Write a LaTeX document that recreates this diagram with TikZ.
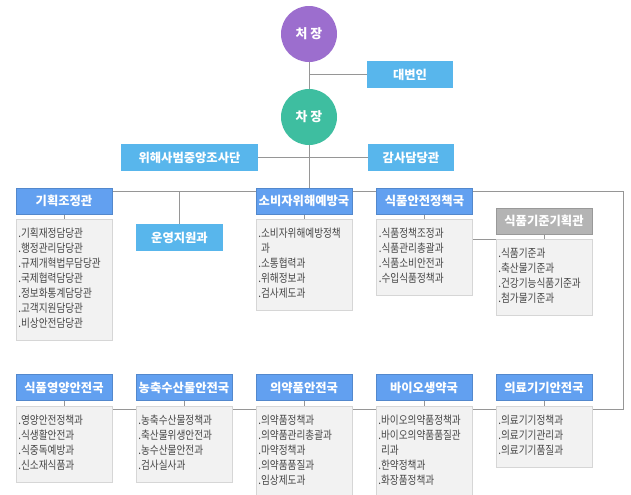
\documentclass[tikz,border=0pt]{standalone}
\usepackage{fontspec}
\setmainfont{Noto Sans CJK KR}
\newfontfamily\listfont{Noto Sans CJK KR}[FakeStretch=0.84]
\usetikzlibrary{positioning,backgrounds}

\definecolor{headpurple}{RGB}{156,110,206}
\definecolor{viceteal}{RGB}{62,190,160}
\definecolor{staffblue}{RGB}{88,182,236}
\definecolor{bureaublue}{RGB}{98,160,240}
\definecolor{planninggray}{RGB}{180,180,180}
\definecolor{listgray}{RGB}{242,242,242}
\definecolor{listline}{RGB}{214,214,214}
\definecolor{linkgray}{RGB}{150,150,150}

\tikzset{
  chief/.style={circle, minimum size=1.68cm, inner sep=0pt, text=white, font=\bfseries\fontsize{11}{13}\selectfont},
  staff/.style={rectangle, fill=staffblue, minimum width=2.58cm, minimum height=0.81cm, inner sep=0pt, text=white, font=\bfseries\fontsize{10.5}{12}\selectfont},
  bureau/.style={rectangle, fill=bureaublue, draw=bureaublue!85!black, line width=0.3pt, minimum width=2.88cm, minimum height=0.78cm, inner sep=0pt, text=white, font=\bfseries\fontsize{10.5}{12}\selectfont},
  deptlist/.style={rectangle, fill=listgray, draw=listline, line width=0.4pt, text width=2.74cm, inner xsep=0.07cm, inner ysep=0.24cm, align=left, text=black!72, font=\listfont\fontsize{9.8}{12.8}\selectfont, execute at begin node=\strut, execute at end node=\strut},
  link/.style={draw=linkgray, line width=0.6pt}
}

\begin{document}
\begin{tikzpicture}[x=0.03cm, y=-0.03cm]
	\useasboundingbox (0,0) rectangle (631,495);
	%% top of the chart
	\node[chief, fill=headpurple] (boss) at (309,34) {처 장};
	\node[staff] (spokes) at (410,74.5) {대변인};
	\node[chief, fill=viceteal] (vice) at (309,117) {차 장};
	\node[staff, minimum width=4.11cm] (probe) at (189.5,157.5) {위해사범중앙조사단};
	\node[staff] (audit) at (411,157.5) {감사담당관};
	\coordinate (hub) at (309,191);
	\coordinate (rc) at (623,191);
	\coordinate (rb) at (623,409);
	%% first row
	\node[bureau] (plan) at (64,201) {기획조정관};
	\node[staff, minimum width=2.61cm] (ops) at (179.5,237.5) {운영지원과};
	\node[bureau] (cons) at (304,201) {소비자위해예방국};
	\node[bureau] (fsafe) at (424.5,201) {식품안전정책국};
	\node[bureau, fill=planninggray, draw=planninggray!85!black] (std) at (544,221) {식품기준기획관};
	\node[deptlist, below=0.15cm of plan] (plan-list) {.기획재정담당관\\.행정관리담당관\\.규제개혁법무담당관\\.국제협력담당관\\.정보화통계담당관\\.고객지원담당관\\.비상안전담당관};
	\node[deptlist, below=0.15cm of cons] (cons-list) {.소비자위해예방정책\\\phantom{.}과\\.소통협력과\\.위해정보과\\.검사제도과};
	\node[deptlist, below=0.15cm of fsafe] (fsafe-list) {.식품정책조정과\\.식품관리총괄과\\.식품소비안전과\\.수입식품정책과};
	\node[deptlist, below=0.15cm of std] (std-list) {.식품기준과\\.축산물기준과\\.건강기능식품기준과\\.첨가물기준과};
	%% second row
	\node[bureau] (nutri) at (64,387.5) {식품영양안전국};
	\node[bureau] (agri) at (184,387.5) {농축수산물안전국};
	\node[bureau] (drug) at (304,387.5) {의약품안전국};
	\node[bureau] (bio) at (424,387.5) {바이오생약국};
	\node[bureau] (device) at (544,387.5) {의료기기안전국};
	\node[deptlist, below=0.15cm of nutri] (nutri-list) {.영양안전정책과\\.식생활안전과\\.식중독예방과\\.신소재식품과};
	\node[deptlist, below=0.15cm of agri] (agri-list) {.농축수산물정책과\\.축산물위생안전과\\.농수산물안전과\\.검사실사과};
	\node[deptlist, below=0.15cm of drug] (drug-list) {.의약품정책과\\.의약품관리총괄과\\.마약정책과\\.의약품품질과\\.임상제도과};
	\node[deptlist, below=0.15cm of bio] (bio-list) {.바이오의약품정책과\\.바이오의약품품질관\\\phantom{.}리과\\.한약정책과\\.화장품정책과};
	\node[deptlist, below=0.15cm of device] (device-list) {.의료기기정책과\\.의료기기관리과\\.의료기기품질과};
	% connectors behind the boxes
	\begin{scope}[on background layer]
		\fill[white] (0,0) rectangle (631,495);
		\draw[link] (boss) -- (vice);
		\draw[link] (boss |- spokes) -- (spokes.west);
		\draw[link] (vice) -- (vice |- cons.north);
		\draw[link] (probe.east) -- (audit.west);
		\draw[link] (plan.east |- hub) -- (rc) -- (rb) -- (nutri-list.east |- rb);
		\draw[link] (ops.north) -- (ops.north |- hub);
		\foreach \b in {plan,cons,fsafe,std,nutri,agri,drug,bio,device}
			\draw[link] (\b.south) -- (\b-list.north);
		\draw[link] (fsafe-list.east |- std-list.north) -- (std.south |- std-list.north);
	\end{scope}
\end{tikzpicture}
\end{document}
